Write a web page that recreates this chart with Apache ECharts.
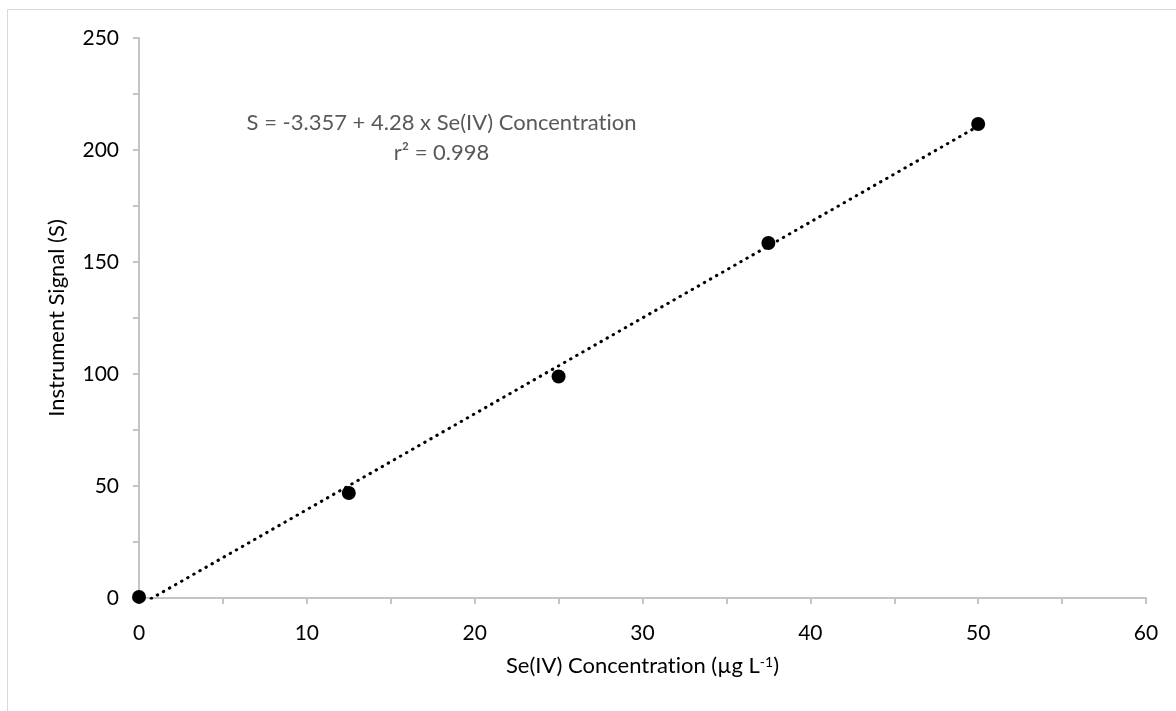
<!DOCTYPE html>
<html>
<head>
<meta charset="utf-8">
<script src="https://cdn.jsdelivr.net/npm/echarts@6/dist/echarts.min.js"></script>
<style>
  html, body { margin: 0; padding: 0; background: #ffffff; }
  #chart { width: 1176px; height: 711px; }
</style>
</head>
<body>
<div id="chart"></div>
<script>
// ---- Data ----
var concentrations = [0, 12.5, 25, 37.5, 50];
var signals = [0.5, 46.9, 98.9, 158.5, 211.6];
var trendIntercept = -3.357;
var trendSlope = 4.28;
var xTicks = [0, 10, 20, 30, 40, 50, 60];
var yTicks = [0, 50, 100, 150, 200, 250];
// "Concentrat" + "ion" are drawn as separate rich-text pieces so no "ti" ligature forms
var equationLine1 = 'S = -3.357 + 4.28 x Se(IV) Concentrat{g|ion}';
var equationLine2 = 'r\u00B2 = 0.998';
var xTitle = 'Se(IV) Concentrat{n|ion} (\u00B5g L{sup|-1})';
var yTitle = 'Instrument Signal (S)';

var points = concentrations.map(function (c, i) { return [c, signals[i]]; });
var trendX = [concentrations[0], concentrations[concentrations.length - 1]];
var trendPoints = trendX.map(function (x) { return [x, trendIntercept + trendSlope * x]; });

var FONT = 'Lato, "Open Sans", sans-serif';
var axisColor = '#c4c4c4';

var chart = echarts.init(document.getElementById('chart'), null, { renderer: 'canvas' });
chart.setOption({
  backgroundColor: '#ffffff',
  animation: false,
  grid: { left: 139, right: 30, top: 38, bottom: 113, containLabel: false },
  graphic: [
    {
      type: 'rect', silent: true, z: -10,
      shape: { x: 7.5, y: 9.5, width: 1300, height: 900 },
      style: { fill: null, stroke: '#d9d9d9', lineWidth: 1 }
    },
    {
      type: 'text', silent: true,
      style: {
        text: equationLine1, x: 441.5, y: 123,
        textAlign: 'center', textVerticalAlign: 'middle',
        fontFamily: FONT, fontSize: 22, fill: '#595959',
        rich: { g: { fontFamily: FONT, fontSize: 22, fill: '#595959' } }
      }
    },
    {
      type: 'text', silent: true,
      style: {
        text: equationLine2, x: 441.5, y: 153,
        textAlign: 'center', textVerticalAlign: 'middle',
        fontFamily: FONT, fontSize: 22, fill: '#595959'
      }
    }
  ],
  xAxis: {
    type: 'value',
    min: xTicks[0], max: xTicks[xTicks.length - 1], interval: xTicks[1] - xTicks[0],
    name: xTitle,
    nameLocation: 'middle',
    nameGap: 57,
    nameTextStyle: {
      color: '#000000', fontFamily: FONT, fontSize: 22,
      rich: {
        n: { fontSize: 22, color: '#000000', fontFamily: FONT },
        sup: { fontSize: 14, verticalAlign: 'top', color: '#000000', fontFamily: FONT, padding: [0, 0, 8, 0] }
      }
    },
    axisLine: { show: true, onZero: false, lineStyle: { color: axisColor, width: 2 } },
    axisTick: { show: true, inside: false, length: 6, lineStyle: { color: axisColor, width: 2 } },
    minorTick: { show: true, splitNumber: 2, length: 6, lineStyle: { color: axisColor, width: 2 } },
    axisLabel: { color: '#000000', fontFamily: FONT, fontSize: 21, margin: 25 },
    splitLine: { show: false }
  },
  yAxis: {
    type: 'value',
    min: yTicks[0], max: yTicks[yTicks.length - 1], interval: yTicks[1] - yTicks[0],
    name: yTitle,
    nameLocation: 'middle',
    nameGap: 71,
    nameTextStyle: { color: '#000000', fontFamily: FONT, fontSize: 22 },
    axisLine: { show: true, onZero: false, lineStyle: { color: axisColor, width: 2 } },
    axisTick: { show: true, inside: false, length: 6, lineStyle: { color: axisColor, width: 2 } },
    minorTick: { show: true, splitNumber: 2, length: 6, lineStyle: { color: axisColor, width: 2 } },
    axisLabel: { color: '#000000', fontFamily: FONT, fontSize: 21, margin: 20 },
    splitLine: { show: false }
  },
  series: [
    {
      type: 'scatter',
      data: points,
      symbol: 'circle',
      symbolSize: 14,
      itemStyle: { color: '#000000', opacity: 1 },
      z: 2
    },
    {
      type: 'line',
      data: trendPoints,
      showSymbol: false,
      symbol: 'none',
      clip: true,
      lineStyle: { color: '#000000', width: 3, type: [0.5, 6.5], cap: 'round' },
      z: 3
    }
  ]
});
</script>
</body>
</html>
